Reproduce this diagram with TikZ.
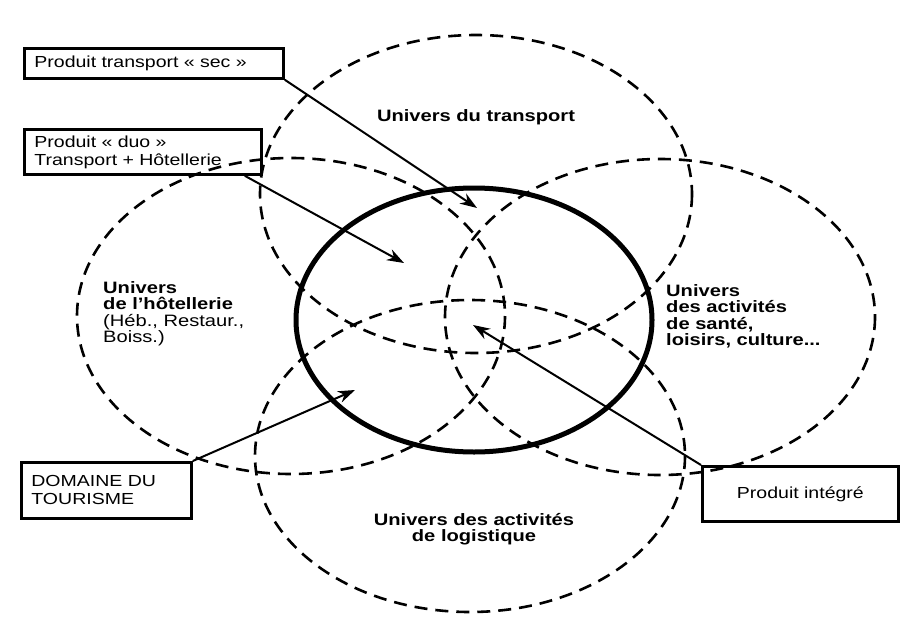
\documentclass[tikz,border=0pt]{standalone}
\usepackage{fontspec}
\setmainfont{Liberation Sans}[FakeStretch=1.22]
\usepackage{tikz}
\usetikzlibrary{arrows.meta}

\begin{document}
\begin{tikzpicture}[x=1pt,y=-1pt,
    univers/.style={draw,line width=2.6pt,dash pattern=on 13pt off 8pt},
    domaine/.style={draw,line width=5pt},
    boite/.style={draw,line width=2.8pt,rectangle,anchor=north west,inner xsep=10pt,inner ysep=0pt,align=left,font=\fontsize{16}{18}\selectfont},
    titre/.style={font=\bfseries\fontsize{16.5}{16.5}\selectfont,inner sep=0pt},
    fleche/.style={-{Stealth[length=17pt,width=12pt]},line width=2pt}]
    \useasboundingbox (0,0) rectangle (902,624);
    \fill[white] (0,0) rectangle (902,624);

    \draw[univers] (476,194) ellipse [x radius=216,y radius=159];
    \draw[univers] (291,316) ellipse [x radius=214,y radius=158];
    \draw[univers] (660,317) ellipse [x radius=215,y radius=158];
    \draw[univers] (470,456) ellipse [x radius=215,y radius=156];
    \draw[domaine] (474,320) ellipse [x radius=178,y radius=132];

    \node [titre,anchor=base] (transport) at (476,121) {Univers du transport};
    \node [titre,anchor=north west,align=left] (hotellerie) at (103,281) {
      Univers\\de l’hôtellerie\\{\mdseries (Héb., Restaur.,}\\{\mdseries Boiss.)}
    };
    \node [titre,anchor=north west,align=left] (sante) at (666,284) {
      Univers\\des activités\\de santé,\\loisirs, culture...
    };
    \node [titre,anchor=north,align=center] (logistique) at (474,513) {
      Univers des activités\\de logistique
    };

    \node [boite,text width=239pt,minimum height=30pt] (sec) at (23,47) {Produit transport « sec »};
    \node [boite,text width=217pt,minimum height=45pt] (duo) at (23,128) {
      Produit « duo »\\Transport + Hôtellerie
    };
    \node [boite,text width=150pt,minimum height=56pt] (tourisme) at (20,461) {
      DOMAINE DU\\TOURISME
    };
    \node [boite,text width=176pt,minimum height=55pt,align=center] (integre) at (701,465) {Produit intégré};

    \coordinate (pSec) at (477,208);
    \coordinate (pDuo) at (404,263);
    \coordinate (pTourisme) at (355,390);
    \coordinate (pIntegre) at (473,325);
    \draw[fleche] (sec.south east) -- (pSec);
    \draw[fleche] ([xshift=-18pt]duo.south east) -- (pDuo);
    \draw[fleche] (tourisme.north east) -- (pTourisme);
    \draw[fleche] (integre.north west) -- (pIntegre);
  \end{tikzpicture}
\end{document}
